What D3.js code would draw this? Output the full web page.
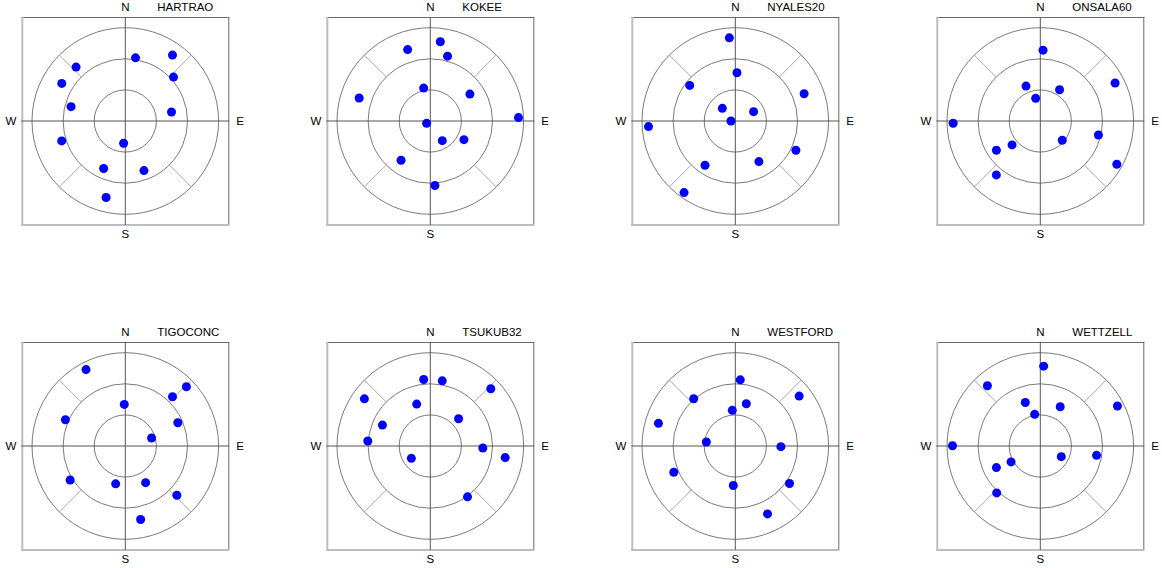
<!DOCTYPE html>
<html>
<head>
<meta charset="utf-8">
<script src="https://cdn.jsdelivr.net/npm/d3@7"></script>
<style>
html,body{margin:0;padding:0;background:#fff;}
svg{display:block;}
text{font-family:"Liberation Sans",Arial,sans-serif;font-size:11.5px;fill:#000;}
</style>
</head>
<body>
<svg id="chart" width="1162" height="568"></svg>
<script>
// Station names (panel titles)
const stations = ["HARTRAO","KOKEE","NYALES20","ONSALA60","TIGOCONC","TSUKUB32","WESTFORD","WETTZELL"];
// Compass labels
const compass = ["N","E","S","W"];
// Elevation rings (degrees of elevation)
const ringElevations = [60, 30, 0];
// Observed source directions: azimuth (deg, clockwise from N) and elevation (deg)
const hartraoAz = [9.2,35.6,317.6,47.7,300.6,284.8,79.0,252.6,184.4,204.5,159.4,194.1];
const hartraoEl = [28.3,11.8,19.6,27.1,18.8,35.9,44.6,25.7,68.5,39.6,38.9,13.9];
const kokeeAz = [7.2,342.4,14.9,287.9,348.6,55.8,87.8,237.5,148.6,119.0,216.7,175.9];
const kokeeEl = [13.0,17.7,25.3,17.9,57.6,43.8,4.9,85.8,67.8,52.9,42.8,27.6];
const nyalesAz = [355.9,2.0,308.0,68.4,314.3,63.0,270.0,266.3,115.8,214.4,149.8,215.6];
const nyalesEl = [9.6,43.4,34.2,18.6,72.5,70.2,85.8,6.1,25.1,38.3,44.7,5.1];
const onsalaAz = [2.2,63.1,337.7,31.7,348.4,268.5,103.5,131.3,229.7,236.3,119.5,219.2];
const onsalaEl = [21.6,9.1,53.6,54.6,67.7,5.9,32.3,61.8,54.3,39.1,5.2,22.9];
const tigoAz = [332.8,45.9,43.8,358.6,293.7,66.1,73.1,238.4,194.3,151.0,133.7,168.2];
const tigoEl = [7.1,7.9,24.2,49.9,26.9,34.6,63.5,27.5,52.3,49.6,21.2,17.6];
const tsukubAz = [354.3,10.4,46.6,305.6,342.0,46.0,293.6,274.6,92.2,98.8,237.0,143.8];
const tsukubEl = [25.5,26.1,9.7,11.8,47.5,52.1,39.6,29.5,39.3,16.9,68.2,29.2];
const westfordAz = [4.3,52.0,318.6,14.6,355.2,286.4,277.9,90.8,246.9,182.9,124.7,154.6];
const westfordEl = [26.0,11.8,29.3,47.9,55.5,12.7,61.8,46.0,25.5,51.8,26.4,17.5];
const wettzellAz = [2.4,318.7,341.0,26.9,62.6,349.9,270.2,99.4,116.9,241.4,243.8,222.9];
const wettzellEl = [12.9,12.7,45.6,47.5,6.2,59.0,5.3,35.0,67.3,57.9,42.8,28.2];

const azData = [hartraoAz,kokeeAz,nyalesAz,onsalaAz,tigoAz,tsukubAz,westfordAz,wettzellAz];
const elData = [hartraoEl,kokeeEl,nyalesEl,onsalaEl,tigoEl,tsukubEl,westfordEl,wettzellEl];

const svg = d3.select("#chart");

// Layout
const cols = 4;
const colX = d3.scaleLinear().domain([0,1]).range([125.3, 430.3]);
const rowY = d3.scaleLinear().domain([0,1]).range([121, 446]);
// radial scale: elevation -> radius (zenith-equidistant)
const rScale = d3.scaleLinear().domain([90, 0]).range([0, 93.3]);
const half = 104;

function polar(az, el) {
  const r = rScale(el);
  const a = az * Math.PI / 180;
  return [r * Math.sin(a), -r * Math.cos(a)];
}

stations.forEach((name, i) => {
  const cx = colX(i % cols), cy = rowY(Math.floor(i / cols));
  const g = svg.append("g").attr("transform", `translate(${cx},${cy})`);

  // box with 3D style edges
  g.append("rect").attr("x", -half).attr("y", -half).attr("width", 2*half).attr("height", 2*half)
    .attr("fill", "#fff").attr("stroke", "none");
  g.append("line").attr("x1", -half).attr("x2", half).attr("y1", -half+0.5).attr("y2", -half+0.5)
    .attr("stroke", "#6a6a6a").attr("stroke-width", 1);
  g.append("line").attr("x1", half-0.5).attr("x2", half-0.5).attr("y1", -half).attr("y2", half)
    .attr("stroke", "#6a6a6a").attr("stroke-width", 1);
  g.append("line").attr("x1", -half+1).attr("x2", -half+1).attr("y1", -half).attr("y2", half+1)
    .attr("stroke", "#bdbdbd").attr("stroke-width", 2);
  g.append("line").attr("x1", -half).attr("x2", half).attr("y1", half).attr("y2", half)
    .attr("stroke", "#bdbdbd").attr("stroke-width", 2);

  // rings
  g.selectAll("circle.ring").data(ringElevations).enter().append("circle")
    .attr("class", "ring").attr("r", d => rScale(d))
    .attr("fill", "none").attr("stroke", "#7a7a7a").attr("stroke-width", 1);

  // diagonal ticks between 30 deg elev and horizon
  g.selectAll("line.diag").data([45,135,225,315]).enter().append("line")
    .attr("class", "diag")
    .attr("x1", d => polar(d, 30)[0]).attr("y1", d => polar(d, 30)[1])
    .attr("x2", d => polar(d, 0)[0]).attr("y2", d => polar(d, 0)[1])
    .attr("stroke", "#a8a8a8").attr("stroke-width", 1);

  // crosshair
  g.append("line").attr("x1", -half).attr("x2", half).attr("y1", 0).attr("y2", 0)
    .attr("stroke", "#555").attr("stroke-width", 1);
  g.append("line").attr("x1", 0).attr("x2", 0).attr("y1", -half).attr("y2", half)
    .attr("stroke", "#555").attr("stroke-width", 1);

  // compass labels
  const labelPos = {N:[0,-110,"middle"], S:[0,117,"middle"], W:[-109,4,"end"], E:[111,4,"start"]};
  compass.forEach(c => {
    const p = labelPos[c];
    g.append("text").attr("x", p[0]).attr("y", p[1]).attr("text-anchor", p[2]).text(c);
  });
  // title
  g.append("text").attr("x", 32).attr("y", -110).attr("text-anchor", "start").text(name);

  // points
  const pts = azData[i].map((az, k) => ({az, el: elData[i][k]}));
  g.selectAll("circle.pt").data(pts).enter().append("circle")
    .attr("class", "pt")
    .attr("cx", d => polar(d.az, d.el)[0])
    .attr("cy", d => polar(d.az, d.el)[1])
    .attr("r", 4.5).attr("fill", "#0000ff");
});
</script>
</body>
</html>
